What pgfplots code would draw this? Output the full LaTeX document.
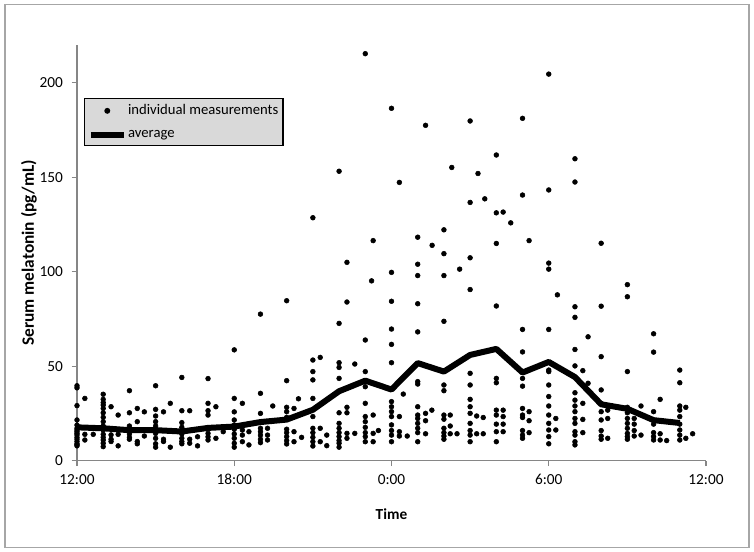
\documentclass[border=0pt]{standalone}
\usepackage{fontspec}
\setmainfont{Carlito}
\usepackage{pgfplots}
\usepackage{pgfplotstable}
\pgfplotsset{compat=1.18}
\definecolor{axgray}{HTML}{868686}
\definecolor{framegray}{HTML}{A6A6A6}
\definecolor{legfill}{HTML}{D9D9D9}

\pgfplotstableread{
x y
0 39.7
0 38.6
0 29.2
0 21.6
0 18.9
0 17.2
0 16.3
0 15.4
0 14.5
0 13.7
0 12.4
0 11.4
0 10.2
0 9
0 8.5
0 7.9
0.3 33
0.3 14
0.3 11
0.62 14
1 35.2
1 32.5
1 30.8
1 29.5
1 27.7
1 25.4
1 23
1 20.7
1 18.4
1 16.3
1 14
1 12.4
1 11
1 9.3
1 7.5
1.3 28.6
1.3 13.7
1.3 11.4
1.3 10.2
1.57 24.2
1.57 14
1.57 7.9
2 37.1
2 25.4
2 18.4
2 16.3
2 14.2
2 12.4
2 11.4
2.3 27.7
2.3 20.7
2.3 10.2
2.3 9
2.57 25.9
2.57 13.1
3 39.7
3 27.2
3 23.7
3 20.7
3 18.4
3 16.7
3 14.5
3 11.9
3 9
3 7.2
3.3 25.9
3.3 11.4
3.3 10.2
3.56 30.4
3.56 7.2
4 44.1
4 26.5
4 20.2
4 17.7
4 15.9
4 14.2
4 11.9
4 10.2
4 9
4.3 26.5
4.3 11.4
4.3 9.3
4.6 12.7
4.6 7.9
5 43.5
5 30.4
5 26.5
5 24.2
5 17.2
5 14.5
5 12.7
5 11
5.3 28.6
5.3 11.9
5.58 15.4
6 58.7
6 33
6 25.9
6 21.6
6 18.9
6 16.7
6 14.2
6 11.9
6 9.3
6 7.2
6.31 30.4
6.31 16.3
6.31 13.6
6.31 10.1
6.56 15.4
6.56 8.4
7 77.6
7 35.7
7 25.1
7 17.2
7 15.4
7 13.6
7 11.4
7 9.6
7.27 17.2
7.27 13.6
7.27 11
7.47 29
8 84.7
8 42.4
8 28.3
8 26
8 23
8 16.7
8 14.9
8 12.8
8 10.7
8 8.9
8.28 27.7
8.28 15.4
8.28 10.1
8.45 32.8
8.57 12.4
9 128.6
9 53.3
9 47.2
9 42.8
9 33
9 23.4
9 17.2
9 14.9
9 12.4
9 10.1
9 7.8
9.28 54.7
9.28 17.2
9.28 10.1
9.53 13.6
9.53 8
10 153.2
10 72.7
10 51.9
10 49.4
10 43.6
10 25.4
10 19.8
10 17.2
10 14.9
10 12.8
10 10.7
10 9.3
10 7.2
10.3 105
10.3 84
10.3 28.3
10.3 25.4
10.3 14.5
10.3 11.9
10.6 51.2
10.6 14.5
11 215.4
11 63.9
11 47.2
11 39.2
11 30.4
11 23.4
11 20.7
11 17.7
11 14.9
11 12.8
11 10.1
11.24 95.2
11.3 116.5
11.3 24.2
11.3 14.5
11.3 10.1
11.5 16
12 186.5
12 99.7
12 84.4
12 69.7
12 61.6
12 51.9
12 31.3
12 28.6
12 26
12 23.4
12 19
12 16
12 13.6
12 10.1
12.3 147.3
12.3 23.4
12.3 15.4
12.3 13.1
12.45 35.3
12.6 13.1
13 118.3
13 104
13 98
13 83.1
13 68.2
13 41.9
13 40.6
13 28.6
13 24.2
13 22.4
13 19.8
13 17.2
13 14.9
13 10.1
13.3 177.5
13.3 25.1
13.3 21.2
13.3 14.3
13.54 26.8
13.55 114
14 122.2
14 109.6
14 98
14 73.8
14 40.1
14 37.1
14 24.2
14 22
14 17.2
14 14.9
14 13.1
14 11.4
14.24 24.2
14.24 18.4
14.24 14.3
14.3 155.2
14.5 14.3
14.6 101.4
15 179.8
15 136.7
15 107.4
15 90.6
15 46.3
15 40.1
15 32.5
15 28.6
15 25.1
15 19.8
15 16
15 13.6
15 10.1
15.25 23.7
15.25 14.3
15.3 152
15.5 22.9
15.5 14.3
15.56 138.6
16 161.8
16 131.2
16 115
16 81.9
16 43.6
16 41.3
16 26.8
16 24.2
16 19.4
16 15.4
16 10.1
16.26 131.6
16.26 26.8
16.26 23.4
16.26 19.4
16.26 15.4
16.55 125.9
17 181.2
17 140.6
17 69.5
17 57.6
17 43.6
17 39.5
17 27.7
17 24.2
17 22.9
17 16
17 13.6
17 11.9
17.25 116.5
17.25 26
17.25 21.2
17.25 14.9
18 204.6
18 143.3
18 104.6
18 101.4
18 69.5
18 48
18 47.2
18 40.1
18 34
18 29
18 24.2
18 19.8
18 16.3
18 12.8
18 9
18.27 22.4
18.27 16.3
18.33 87.8
19 159.8
19 147.5
19 81.5
19 75.9
19 58.9
19 50.2
19 36
19 32.1
19 29
19 26
19 22.4
19 19.8
19 15.4
19 13.6
19 10.1
19 8.4
19.3 47.7
19.3 30.4
19.3 21.9
19.3 14.9
19.5 65.6
19.5 41
20 115.1
20 81.8
20 55.1
20 37.5
20 30.4
20 26
20 21.6
20 16
20 13.1
20 11.4
20.25 26.8
20.25 22.4
20.25 11.9
21 93.2
21 86.8
21 47.2
21 28.3
21 25.4
21 22.4
21 19.8
21 17.2
21 14.5
21 12.8
21 11.4
21.26 22.4
21.26 19.4
21.26 16
21.26 13.1
21.52 29
21.52 13.6
22 67.2
22 57.5
22 26
22 19.4
22 14.9
22 12.8
22 11
22.25 32.5
22.25 14.3
22.25 11
22.5 10.7
23 48
23 41.3
23 29
23 26.8
23 23.4
23 19.4
23 16.3
23 13.6
23 11
23.23 28.3
23.23 11.9
23.49 14.3
}\measurements

\pgfplotstableread{
x y
0 17.7
1 17.2
2 16.2
3 16.2
4 15.5
5 17.4
6 18.1
7 20.5
8 21.8
9 27
10 36.8
11 42.4
12 37.7
13 51.7
14 47.2
15 56
16 59.2
17 46.7
18 52.3
19 44.3
20 29.9
21 27.5
22 21.5
23 20
}\average

\begin{document}
\begin{tikzpicture}
\begin{axis}[
  scale only axis, width=471.75pt, height=311.85pt,
  at={(0pt,0pt)}, anchor=south west,
  xmin=0, xmax=24, ymin=0, ymax=220,
  clip=false,
  axis x line*=bottom, axis y line*=left,
  axis line style={axgray, line width=0.8pt},
  every tick/.style={axgray, line width=0.8pt},
  tick align=outside, major tick length=4pt,
  xtick={0,6,12,18,24}, xticklabels={12:00,18:00,0:00,6:00,12:00},
  ytick={0,50,100,150,200},
  /pgf/number format/assume math mode=true,
  tick label style={font=\fontsize{11.5}{13}\selectfont, black},
  xticklabel style={yshift=-2.5pt},
  yticklabel style={xshift=-3pt},
  xlabel={\textbf{Time}}, ylabel={\textbf{Serum melatonin (pg/mL)}},
  xlabel style={font=\fontsize{11.5}{13}\selectfont, at={(axis description cs:0.5,-0.1275)}, anchor=center},
  ylabel style={font=\fontsize{13}{15}\selectfont, at={(axis description cs:-0.0763,0.5)}, anchor=center},
  legend style={at={(0.011,0.872)}, anchor=north west, fill=legfill, draw=black, line width=0.8pt,
    font=\fontsize{11}{13}\selectfont, inner xsep=2.5pt, inner ysep=3.5pt,
    nodes={inner sep=1pt}, row sep=8pt},
  legend cell align=left,
]
\addplot[only marks, mark=*, mark size=1.8pt, black,
  legend image code/.code={\path[draw=none] (0cm,0cm) -- (0.87cm,0cm); \fill[black] (0.435cm,0cm) circle (1.8pt);}]
  table[x=x,y=y] {\measurements};
\addlegendentry{individual measurements\hspace{3pt}}
\addplot[black, line width=4.5pt, line join=round,
  legend image code/.code={\draw[black, line width=4.5pt] (0cm,0cm) -- (0.87cm,0cm);}]
  table[x=x,y=y] {\average};
\addlegendentry{average}
\end{axis}
\draw[framegray, line width=0.8pt] (-54pt,-65pt) rectangle (504pt,342pt);
\path (-57.75pt,-68.4pt) rectangle (507.75pt,345.6pt);
\end{tikzpicture}
\end{document}
